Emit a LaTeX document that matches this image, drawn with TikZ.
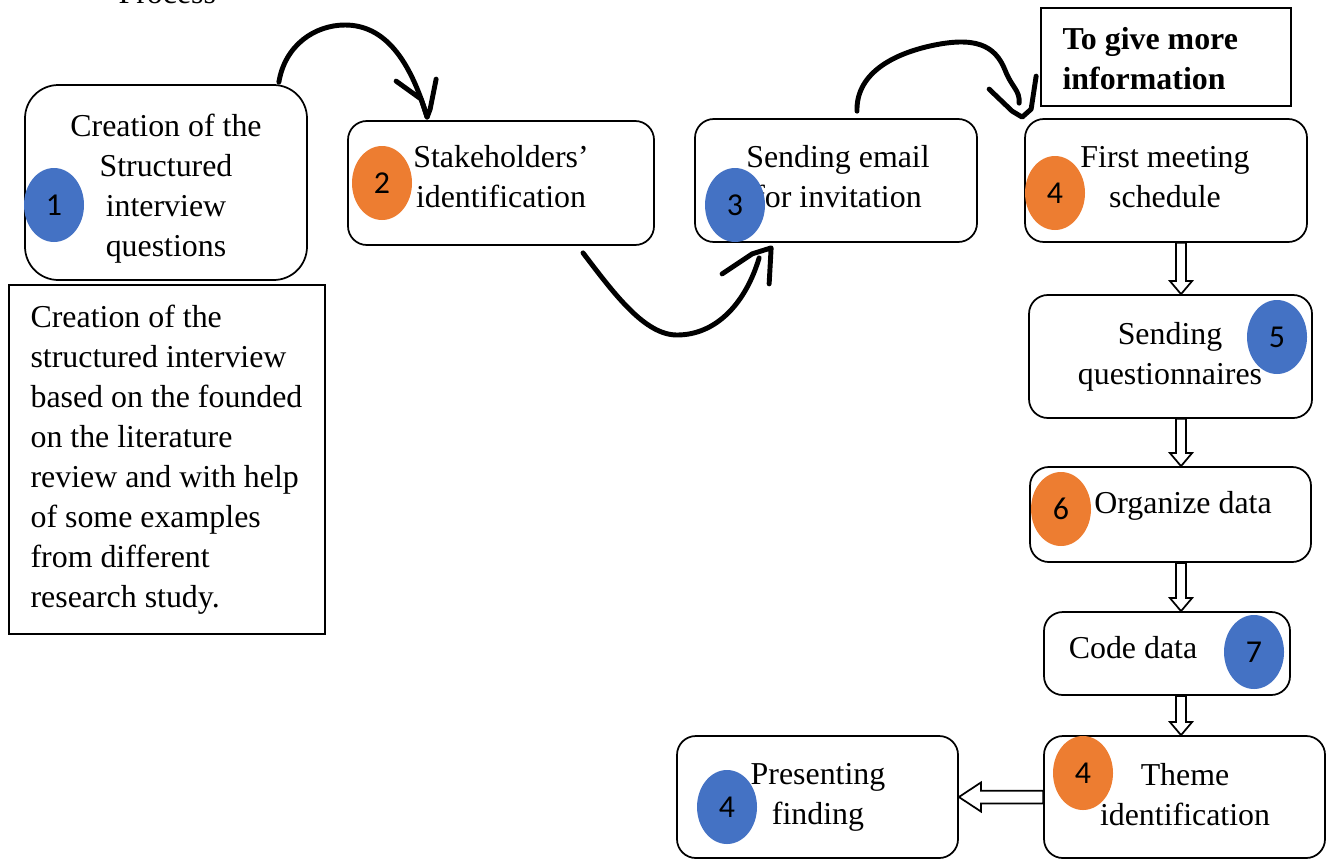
\documentclass[tikz,border=0pt]{standalone}
\usepackage{fontspec}
\setmainfont{Liberation Serif}
\newfontfamily\numfont{Carlito}
\usepackage{xcolor}
\usepackage{tikz}
\usetikzlibrary{shapes,positioning,calc}
\definecolor{dotblue}{HTML}{4472C4}
\definecolor{dotorange}{HTML}{ED7D31}
\newcommand{\pxu}{0.345pt}
\tikzset{box/.style={rectangle,draw,line width=0.6pt,rounded corners=6.5pt,inner sep=0pt},
    note/.style={rectangle,draw,line width=0.6pt,inner sep=0pt},
    boxsize/.style 2 args={minimum width=#1*\pxu,minimum height=#2*\pxu},
    txt/.style={font=\fontsize{11pt}{13.8pt}\selectfont,align=center,inner sep=0pt},
    ell/.style={ellipse,minimum width=60*\pxu,minimum height=74*\pxu,inner sep=0pt,font=\numfont\fontsize{11pt}{13pt}\selectfont},
    bdot/.style={ell,fill=dotblue},
    odot/.style={ell,fill=dotorange},
    hand/.style={line width=1.7pt,line cap=round,line join=round},
    blockdown/.style={line width=0.6pt,to path={let \p1=(\tikztostart),\p2=(\tikztotarget) in
        (\x1-1.7pt,\y1) -- (\x1-1.7pt,\y2+4.5pt) -- (\x1-3.8pt,\y2+4.5pt) -- (\x1,\y2)
        -- (\x1+3.8pt,\y2+4.5pt) -- (\x1+1.7pt,\y2+4.5pt) -- (\x1+1.7pt,\y1) -- cycle}},
    blockleft/.style={line width=0.6pt,to path={let \p1=(\tikztostart),\p2=(\tikztotarget) in
        (\x1,\y1+2.2pt) -- (\x2+7.6pt,\y1+2.2pt) -- (\x2+7.6pt,\y1+5pt) -- (\x2,\y1)
        -- (\x2+7.6pt,\y1-5pt) -- (\x2+7.6pt,\y1-2.2pt) -- (\x1,\y1-2.2pt) -- cycle}}}

\begin{document}
\begin{tikzpicture}[x=0.345pt,y=-0.345pt]
    \useasboundingbox (0,0) rectangle (1326,859);
    \node[txt,anchor=base west] (title) at (118,3) {Process};

    \node[box,boxsize={282}{195},rounded corners=11.5pt] (b1) at (166,182.5) {};
    \node[note,boxsize={316}{349}] (desc) at (167,459.5) {};
    \node[box,boxsize={306}{124}] (b2) at (501,183) {};
    \node[box,boxsize={282}{123}] (b3) at (836,180.5) {};
    \node[box,boxsize={282}{123}] (b4) at (1166,180.5) {};
    \node[note,boxsize={250}{98}] (info) at (1166,57) {};
    \node[box,boxsize={283}{123}] (b5) at (1170.5,356.5) {};
    \node[box,boxsize={281}{95}] (b6) at (1170.5,514.5) {};
    \node[box,boxsize={246}{83}] (b7) at (1167,653.5) {};
    \node[box,boxsize={281}{122}] (b8) at (1184.5,797) {};
    \node[box,boxsize={281}{122}] (b9) at (817.5,797) {};

    \node[txt] (t1) at (166,189) {Creation of the\\Structured\\interview\\questions};
    \node[txt,align=left,anchor=west] (t0) at (30,460) {Creation of the\\structured interview\\based on the founded\\on the literature\\review and with help\\of some examples\\from different\\research study.};
    \node[txt] (t2) at (501,177) {Stakeholders’\\identification};
    \node[txt] (t3) at (838,177) {Sending email\\for invitation};
    \node[txt] (t4) at (1165,177) {First meeting\\schedule};
    \node[txt,align=left,anchor=west,font=\fontsize{11pt}{13.8pt}\selectfont\bfseries] (tinfo) at (1062,59) {To give more\\information};
    \node[txt] (t5) at (1170,357) {Sending\\questionnaires};
    \node[txt] (t6) at (1183,506) {Organize data};
    \node[txt] (t7) at (1133,648) {Code data};
    \node[txt] (t8) at (1185,795) {Theme\\identification};
    \node[txt] (t9) at (818,797) {Presenting\\finding};

    \node[bdot] (n1) at (54,205) {1};
    \node[odot] (n2) at (382,183) {2};
    \node[bdot] (n3) at (735,205) {3};
    \node[odot] (n4) at (1055,193) {4};
    \node[bdot] (n5) at (1277,337) {5};
    \node[odot] (n6) at (1061,509) {6};
    \node[bdot] (n7) at (1254,652) {7};
    \node[odot] (n8) at (1083,773) {4};
    \node[bdot] (n9) at (727,807) {4};

    \coordinate (ax) at (1181,0);
    \draw [blockdown] (b4.south -| ax) to [] (b5.north -| ax);
    \draw [blockdown] (b5.south -| ax) to [] (b6.north -| ax);
    \draw [blockdown] (b6.south -| ax) to [] (b7.north -| ax);
    \draw [blockdown] (b7.south -| ax) to [] (b8.north -| ax);
    \draw [blockleft] (b8.west) to [] (b9.east);

    \coordinate (tip1) at ($(b2.north west)+(80,-3)$);
    \coordinate (tip2) at ($(b3.south west)+(77,5)$);
    \coordinate (tip3) at ($(b4.north west)+(-2,-1)$);
    \draw [hand] ($(b1.north east)+(-29,-2)$) .. controls (285,45) and (315,25) .. (345,25)
        .. controls (385,25) and (410,60) .. (tip1);
    \draw [hand] ($(tip1)+(-31,-36)$) -- ($(tip1)+(-6,-18)$) -- (tip1) -- ($(tip1)+(3,-8)$) -- ($(tip1)+(9,-38)$);
    \draw [hand] ($(b2.south)+(82,7)$) .. controls (615,295) and (645,335) .. (677,335)
        .. controls (715,335) and (745,305) .. ($(tip2)+(-12,10)$);
    \draw [hand] ($(tip2)+(-49,26)$) -- ($(tip2)+(-19,6)$) -- (tip2) -- ($(tip2)+(-1,18)$) -- ($(tip2)+(-2,36)$);
    \draw [hand] ($(b3.north)+(21,-7)$) .. controls (856,75) and (890,55) .. (930,46)
        .. controls (975,36) and (995,45) .. (1005,70) .. controls (1012,88) and (1020,90) .. ($(tip3)+(-3,-14)$);
    \draw [hand] ($(tip3)+(-33,-28)$) -- ($(tip3)+(-10,-6)$) -- (tip3) -- ($(tip3)+(9,-8)$) -- ($(tip3)+(14,-41)$);
\end{tikzpicture}
\end{document}
